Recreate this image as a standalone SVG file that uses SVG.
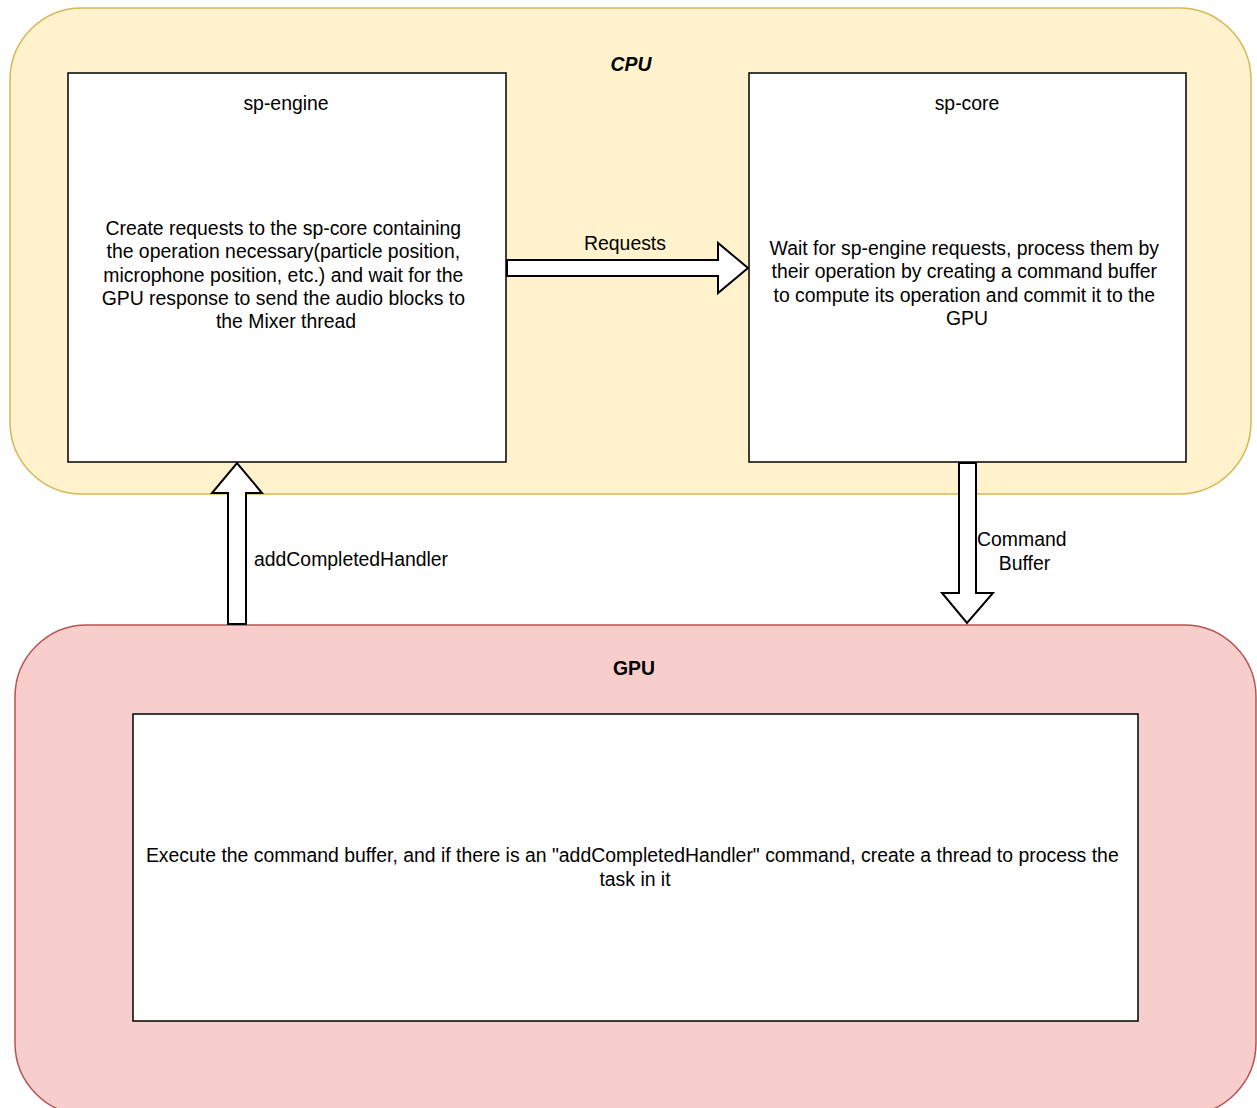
<svg xmlns="http://www.w3.org/2000/svg" width="1257" height="1108" viewBox="0 0 1257 1108">
  <style>
    text { font-family: "Liberation Sans", Arial, Helvetica, sans-serif; font-size: 19.4px; fill: #000; }
    .mid { text-anchor: middle; }
    .box { fill: #ffffff; stroke: #000000; stroke-width: 1.5; }
    .arrow { fill: #ffffff; stroke: #000000; stroke-width: 2; stroke-linejoin: miter; }
  </style>
  <rect width="1257" height="1108" fill="#ffffff"/>

  <!-- CPU container -->
  <g id="cpu">
    <rect x="10" y="8" width="1241" height="486" rx="72" ry="72" fill="#fff2cc" stroke="#d6b656" stroke-width="1.5"/>
    <text x="631" y="71" class="mid" font-weight="bold" font-style="italic">CPU</text>
  </g>

  <!-- GPU container -->
  <g id="gpu">
    <rect x="15" y="625" width="1241" height="490" rx="72" ry="72" fill="#f8cecc" stroke="#b85450" stroke-width="1.5"/>
    <text x="634" y="675" class="mid" font-weight="bold">GPU</text>
  </g>

  <!-- sp-engine node -->
  <g id="sp-engine">
    <rect class="box" x="68" y="73" width="438" height="389"/>
    <text x="286" y="110" class="mid">sp-engine</text>
    <text class="mid">
      <tspan x="286" y="235">Create requests to the sp-core containing</tspan>
      <tspan x="286" y="258">the operation necessary(particle position,</tspan>
      <tspan x="286" y="282">microphone position, etc.) and wait for the</tspan>
      <tspan x="286" y="305">GPU response to send the audio blocks to</tspan>
      <tspan x="286" y="328">the Mixer thread</tspan>
    </text>
  </g>

  <!-- sp-core node -->
  <g id="sp-core">
    <rect class="box" x="749" y="73" width="437" height="389"/>
    <text x="967" y="110" class="mid">sp-core</text>
    <text class="mid">
      <tspan x="967" y="255">Wait for sp-engine requests, process them by</tspan>
      <tspan x="967" y="278">their operation by creating a command buffer</tspan>
      <tspan x="967" y="302">to compute its operation and commit it to the</tspan>
      <tspan x="967" y="325">GPU</tspan>
    </text>
  </g>

  <!-- GPU execution node -->
  <g id="gpu-exec">
    <rect class="box" x="133" y="714" width="1005" height="307"/>
    <text class="mid">
      <tspan x="635" y="862">Execute the command buffer, and if there is an "addCompletedHandler" command, create a thread to process the</tspan>
      <tspan x="635" y="886">task in it</tspan>
    </text>
  </g>

  <!-- connectors -->
  <g id="connectors">
    <!-- Requests: sp-engine to sp-core -->
    <polygon class="arrow" points="507,260 718,260 718,243 748,268 718,293 718,276 507,276"/>
    <text x="625" y="250" class="mid">Requests</text>

    <!-- addCompletedHandler: GPU to sp-engine -->
    <polygon class="arrow" points="228,624 228,493 212,493 237,463 262,493 246,493 246,624"/>
    <text x="254" y="566">addCompletedHandler</text>

    <!-- Command Buffer: sp-core to GPU -->
    <polygon class="arrow" points="959,463 976,463 976,593 993,593 967,623 942,593 959,593"/>
    <text class="mid">
      <tspan x="1024.5" y="546">Command</tspan>
      <tspan x="1024.5" y="570">Buffer</tspan>
    </text>
  </g>
</svg>
